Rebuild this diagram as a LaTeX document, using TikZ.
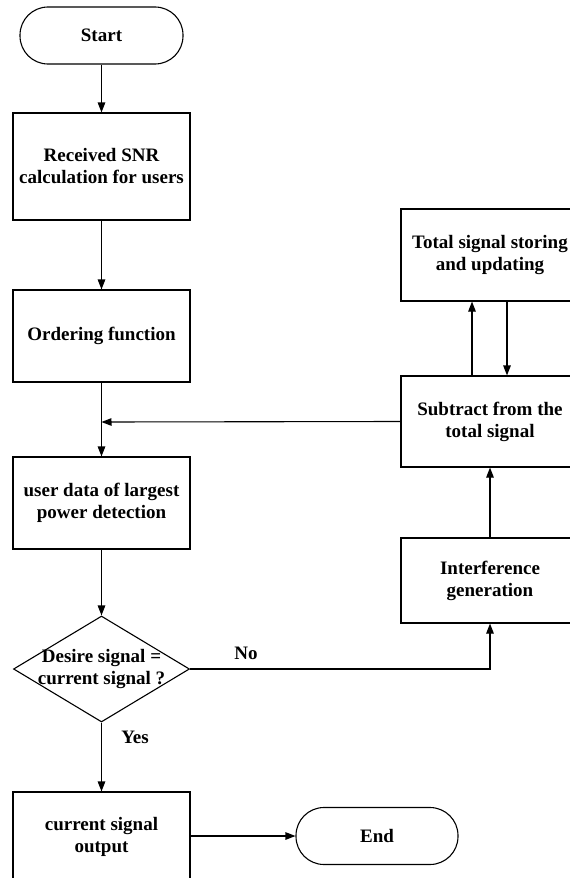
\documentclass[tikz,border=0pt]{standalone}
\usepackage{fontspec}
\setmainfont{Liberation Serif}
\usetikzlibrary{shapes.geometric,arrows.meta}
\tikzset{
  every node/.style={font=\bfseries\fontsize{19}{22}\selectfont},
  procbox/.style={draw, line width=1.1pt, rectangle, minimum width=177pt, inner sep=0pt, align=center},
  term/.style={draw, line width=1.1pt, rectangle, rounded corners=28pt, minimum width=163pt, minimum height=57pt, inner sep=0pt},
  decis/.style={draw, line width=1.1pt, diamond, minimum width=176pt, minimum height=106pt, inner sep=0pt},
  flow/.style={line width=1.1pt, -{Triangle[length=10pt,width=7.5pt]}},
  lbl/.style={inner sep=0pt}
}
\begin{document}
\begin{tikzpicture}[x=1pt,y=-1pt]
\useasboundingbox (0,0) rectangle (570,878);
\clip (0,0) rectangle (570,878);
\fill[white] (0,0) rectangle (570,878);
\node[term] (start) at (101.5,35.5) {Start};
\node[procbox, minimum height=107pt] (recv) at (101.5,166.5) {Received SNR\\calculation for users};
\node[procbox, minimum height=92pt] (order) at (101.5,336) {Ordering function};
\node[procbox, minimum height=92pt] (detect) at (101.5,503) {user data of largest\\power detection};
\node[decis] (dec) at (101.5,669) {};
\node[align=center, inner sep=0pt] (dectext) at (dec.center) {Desire signal =\\current signal ?};
\node[procbox, minimum height=90pt] (out) at (101.5,837) {current signal\\output};
\node[term, minimum width=162pt] (end) at (377,836) {End};
\node[procbox, minimum width=178pt, minimum height=92pt] (total) at (490,255) {Total signal storing\\and updating};
\node[procbox, minimum width=178pt, minimum height=91pt] (sub) at (490,421.5) {Subtract from the\\total signal};
\node[procbox, minimum width=178pt, minimum height=85pt] (interf) at (490,580.5) {Interference\\generation};
\coordinate (join) at (101.5,422);
\node[lbl] (no) at (246,653) {No};
\node[lbl] (yes) at (135,737) {Yes};
\draw[flow] (start) -- (recv);
\draw[flow] (recv) -- (order);
\draw[flow] (order) -- (detect);
\draw[flow] (sub.west) -- (join);
\draw[flow] (detect) -- (dec.north);
\draw[flow] (dec.east) -| (interf.south);
\draw[flow] (dec.south) -- (out.north);
\draw[flow] (out.east |- end.west) -- (end.west);
\draw[flow] (interf.north) -- (sub.south);
\draw[flow] (sub.north -| 472,0) -- (total.south -| 472,0);
\draw[flow] (total.south -| 507,0) -- (sub.north -| 507,0);
\end{tikzpicture}
\end{document}
